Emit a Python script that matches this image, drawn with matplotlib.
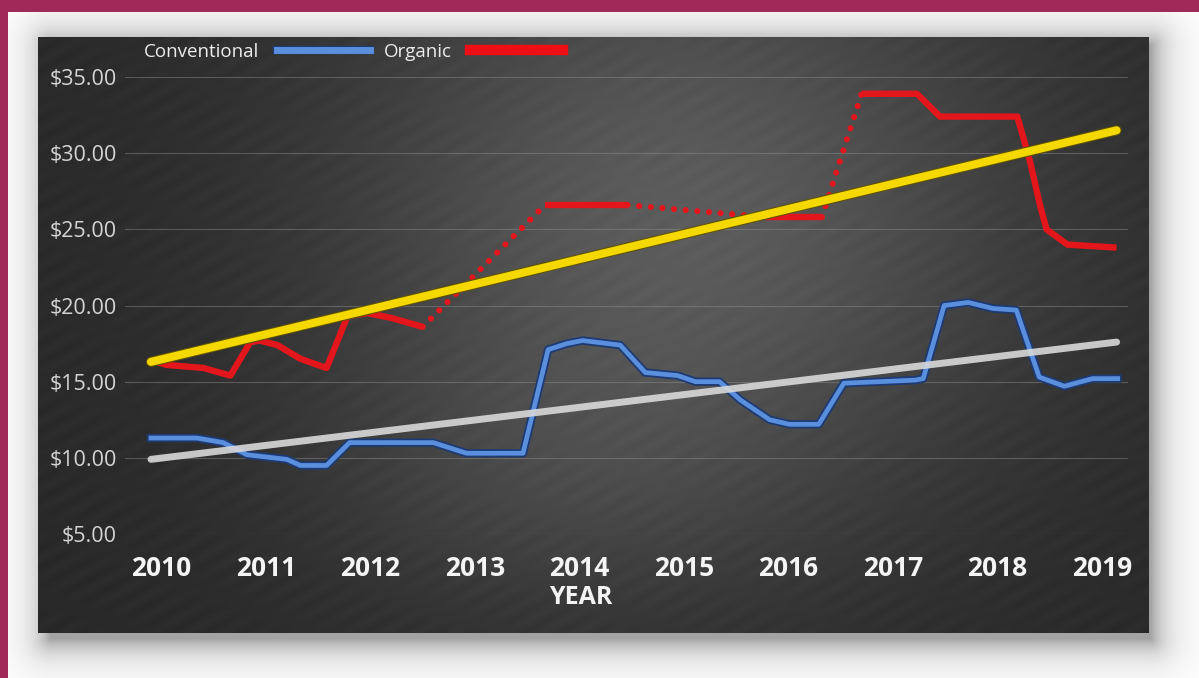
import numpy as np
import matplotlib
matplotlib.use("Agg")
import matplotlib.pyplot as plt
import matplotlib.patheffects as pe
from matplotlib.lines import Line2D

# Average price per pound, conventional vs organic (decimal years)
conv_years = [2010.00, 2010.44, 2010.69, 2010.92, 2011.30, 2011.43, 2011.68, 2011.90,
              2012.70, 2013.02, 2013.56, 2013.80, 2013.98, 2014.13, 2014.49, 2014.73,
              2015.04, 2015.21, 2015.44, 2015.64, 2015.92, 2016.11, 2016.39, 2016.63,
              2017.31, 2017.39, 2017.59, 2017.82, 2018.06, 2018.28, 2018.50, 2018.74,
              2019.01, 2019.25]
conv_price = [11.3, 11.3, 11.0, 10.2, 9.9, 9.5, 9.5, 11.0,
              11.0, 10.3, 10.3, 17.1, 17.5, 17.7, 17.4, 15.6,
              15.4, 15.0, 15.0, 13.8, 12.5, 12.2, 12.2, 14.9,
              15.1, 15.2, 20.0, 20.2, 19.8, 19.7, 15.3, 14.7,
              15.2, 15.2]

# Organic prices come in separate runs; gaps between runs are drawn dotted
org_years = [
    [2010.00, 2010.15, 2010.50, 2010.76, 2010.95, 2011.04, 2011.21, 2011.43,
     2011.68, 2011.88, 2012.07, 2012.29, 2012.60],
    [2013.77, 2014.56],
    [2015.88, 2016.42],
    [2016.80, 2017.33, 2017.55, 2018.29, 2018.41, 2018.51, 2018.57, 2018.77, 2019.24],
]
org_price = [
    [16.4, 16.1, 15.9, 15.4, 17.6, 17.7, 17.4, 16.5, 15.9, 19.3, 19.5, 19.2, 18.6],
    [26.6, 26.6],
    [25.8, 25.8],
    [33.9, 33.9, 32.4, 32.4, 29.5, 26.5, 25.0, 24.0, 23.8],
]

# Linear trend end points
trend_years = [2010.00, 2019.24]
conv_trend = [9.9, 17.6]
org_trend = [16.3, 31.5]

year_labels = [str(y) for y in range(2010, 2020)]
price_ticks = [5, 10, 15, 20, 25, 30, 35]

W, H = 1199, 678
DPI = 100

# ---- backdrop: page, frame strips, drop shadow and chalkboard panel ----
yy, xx = np.mgrid[0:H, 0:W].astype(float)
img = np.ones((H, W, 3))

# soft drop shadow offset down/right of the board
sx0, sy0, sx1, sy1 = 50, 45, 1150, 638
dx = np.maximum(np.maximum(sx0 - xx, 0), xx - sx1)
dy = np.maximum(np.maximum(sy0 - yy, 0), yy - sy1)
dist = np.hypot(dx, dy)
shadow = 0.36 * np.exp(-dist / 17.0)
img *= (1 - shadow)[..., None]

# chalkboard
bx0, by0, bx1, by1 = 38, 37, 1149, 633
u = (xx - bx0) / (bx1 - bx0)
v = (yy - by0) / (by1 - by0)
glow = np.exp(-((u - 0.58) ** 2 / 0.10 + (v - 0.30) ** 2 / 0.28))
glow2 = np.exp(-((u - 0.45) ** 2 / 0.05 + (v - 0.75) ** 2 / 0.05))
shade = 0.16 + 0.20 * glow + 0.05 * glow2
# faint chalk smears running lower-left to upper-right
streak = 0.009 * np.sin((xx * 0.55 + yy * 1.0) / 3.1) * np.sin(yy / 23.0 - xx / 57.0)
shade = shade + streak
board = np.stack([shade, shade, shade * 1.01], axis=-1)
inside = (xx >= bx0) & (xx < bx1) & (yy >= by0) & (yy < by1)
img[inside] = np.clip(board[inside], 0, 1)

# magenta frame strips on top and left
frame = np.array([160, 41, 90]) / 255
img[:12, :] = frame
img[:, :8] = frame

fig = plt.figure(figsize=(W / DPI, H / DPI), dpi=DPI)
fig.figimage(img, xo=0, yo=0, origin="upper", zorder=-10)

# ---- plot area ----
ax_l, ax_r = 125, 1128
ax_top, ax_bot = 77, 534
px_per_year = 104.5
x0_px = 151
ax = fig.add_axes([ax_l / W, 1 - ax_bot / H, (ax_r - ax_l) / W, (ax_bot - ax_top) / H])
ax.set_facecolor("none")
ax.set_xlim(2010 + (ax_l - x0_px) / px_per_year, 2010 + (ax_r - x0_px) / px_per_year)
ax.set_ylim(5, 35)
for s in ax.spines.values():
    s.set_visible(False)

ax.set_yticks(price_ticks)
ax.set_yticklabels([f"${p:.2f}" for p in price_ticks], fontfamily="Open Sans",
                   fontsize=15.5, color="#d4d4d4")
ax.tick_params(axis="y", length=0, pad=6)
ax.grid(axis="y", color="#9a9a9a", lw=0.8, alpha=0.4)
ax.set_axisbelow(True)

ax.set_xticks([int(y) + 0.1 for y in year_labels])
ax.set_xticklabels(year_labels, fontfamily="Open Sans", fontweight="bold",
                   fontsize=19, color="#f4f4f4")
ax.tick_params(axis="x", length=0, pad=15)
ax.set_xlabel("YEAR", fontfamily="Open Sans", fontweight="bold", fontsize=18,
              color="#f4f4f4")
ax.xaxis.set_label_coords((581 - ax_l) / (ax_r - ax_l), -(597 - ax_bot) / (ax_bot - ax_top))
ax.xaxis.label.set_verticalalignment("center")

blue_fx = [pe.Stroke(linewidth=6, foreground="#1d3a73"), pe.Normal()]
ax.plot(conv_years, conv_price, color="#5a8fdd", lw=3.4, solid_joinstyle="round",
        path_effects=blue_fx, zorder=3)

for i in range(len(org_years) - 1):
    ax.plot([org_years[i][-1], org_years[i + 1][0]], [org_price[i][-1], org_price[i + 1][0]],
            color="#e3161b", lw=4.4, linestyle=(0, (0.01, 1.9)),
            dash_capstyle="round", zorder=4)
for yrs, vals in zip(org_years, org_price):
    ax.plot(yrs, vals, color="#e3161b", lw=4.6, solid_joinstyle="round",
            solid_capstyle="butt", zorder=4)

ax.plot(trend_years, conv_trend, color="#d9d9d9", lw=5, alpha=0.9,
        solid_capstyle="round", zorder=5)
ax.plot(trend_years, org_trend, color="#f4d800", lw=5.8, solid_capstyle="round",
        path_effects=[pe.Stroke(linewidth=7.3, foreground="#5e5200"), pe.Normal()], zorder=6)

# legend: label first, then the swatch
handles = [Line2D([], [], color="#5a8fdd", lw=5, path_effects=blue_fx),
           Line2D([], [], color="#ee0f14", lw=7.5)]
fig.legend(handles, ["Conventional", "Organic"], loc="center left",
           bbox_to_anchor=(144 / W, 1 - 52 / H), ncol=2, frameon=False,
           markerfirst=False, handlelength=4.95, handletextpad=0.95,
           columnspacing=0.75, borderpad=0, borderaxespad=0,
           prop={"family": "Open Sans", "size": 13.5}, labelcolor="#ececec")

fig.savefig("out.png", dpi=DPI)
